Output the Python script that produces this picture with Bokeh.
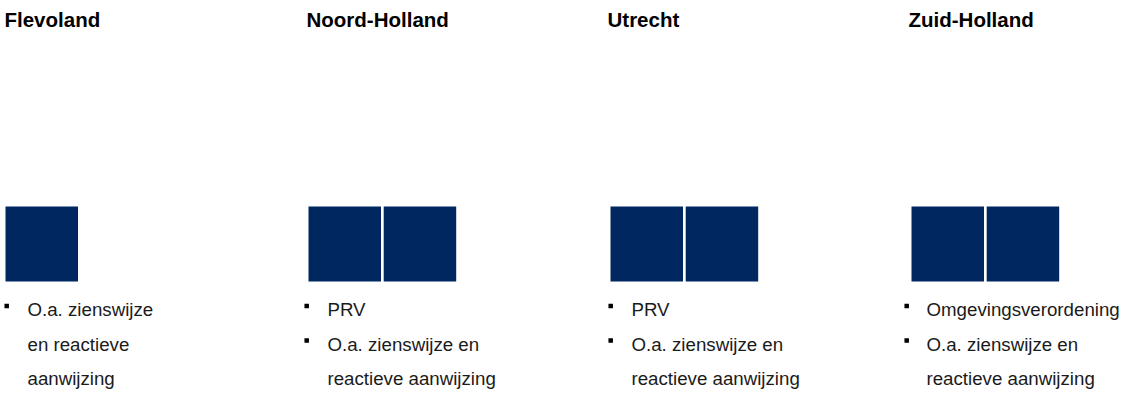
from bokeh.plotting import figure
from bokeh.models import Range1d, ColumnDataSource
from bokeh.core.properties import value
from bokeh.embed import file_html
from bokeh.resources import INLINE

# ---- data ----
provinces = ["Flevoland", "Noord-Holland", "Utrecht", "Zuid-Holland"]
square_counts = [1, 2, 2, 2]
bullet_items = [
    [["O.a. zienswijze", "en reactieve", "aanwijzing"]],
    [["PRV"], ["O.a. zienswijze en", "reactieve aanwijzing"]],
    [["PRV"], ["O.a. zienswijze en", "reactieve aanwijzing"]],
    [["Omgevingsverordening"], ["O.a. zienswijze en", "reactieve aanwijzing"]],
]

# ---- layout (pixels within the figure) ----
W, H = 1124, 393
col_x = [5, 308, 610, 911]          # left edge of first square
title_dx = [-1, -2, -3, -3]
bullet_dx = [-1, -4, -2, -7]
text_dx = [22, 19, 21, 15]
sq_w, sq_pitch = 72.5, 75.2
sq_top, sq_bottom = 206, 281
title_y = 18.5
line_y0, line_step = 309, 34.5
NAVY = "#002760"
FONT = "Liberation Sans"

p = figure(width=W, height=H, x_range=Range1d(0, W), y_range=Range1d(H, 0),
           output_backend="svg", toolbar_location=None, min_border=0,
           x_axis_type=None, y_axis_type=None)
p.grid.visible = False
p.outline_line_color = None
p.background_fill_color = "white"
p.border_fill_color = "white"

# squares
left, right, top, bottom = [], [], [], []
for i, n in enumerate(square_counts):
    for k in range(n):
        l = col_x[i] + k * sq_pitch
        left.append(l); right.append(l + sq_w)
        top.append(sq_top); bottom.append(sq_bottom)
p.quad(left=left, right=right, top=top, bottom=bottom,
       fill_color=NAVY, line_color=None)

# titles
tsrc = ColumnDataSource(dict(x=[col_x[i] + title_dx[i] for i in range(len(provinces))],
                             y=[title_y] * len(provinces), t=provinces))
p.text(x="x", y="y", text="t", source=tsrc, text_font=value(FONT),
       text_font_style="bold", text_font_size="20.5px", text_color="black",
       text_baseline="alphabetic", text_align="left")

# bullet texts
lx, ly, lt, bx, by = [], [], [], [], []
for i, items in enumerate(bullet_items):
    li = 0
    for item in items:
        for j, line in enumerate(item):
            y = line_y0 + li * line_step
            lx.append(col_x[i] + text_dx[i]); ly.append(y); lt.append(line)
            if j == 0:
                bx.append(col_x[i] + bullet_dx[i] + 2.2); by.append(y - 3.5)
            li += 1

lsrc = ColumnDataSource(dict(x=lx, y=ly, t=lt))
p.text(x="x", y="y", text="t", source=lsrc, text_font=value(FONT),
       text_font_size="18.7px", text_color="#1a1a1a",
       text_baseline="middle", text_align="left")
p.rect(x=bx, y=by, width=4.5, height=4.5, fill_color="black", line_color=None)

open("out.html", "w").write(file_html(p, INLINE))
